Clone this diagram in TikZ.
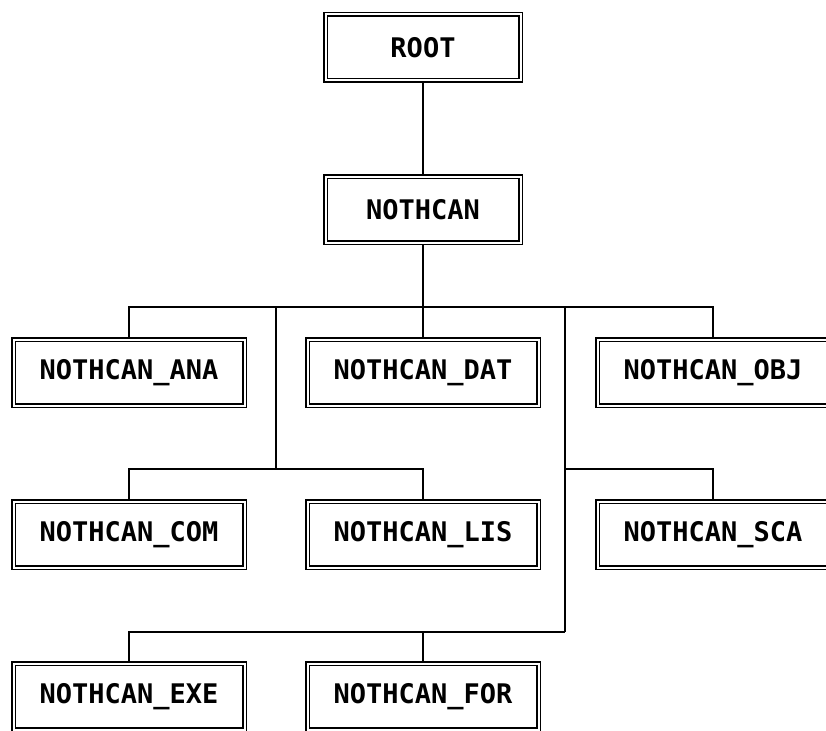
\documentclass[tikz,border=0pt]{standalone}
\usepackage{fontspec}
\newfontfamily\plotfont{DejaVu Sans Mono}
\usepackage{tikz}
\usetikzlibrary{positioning}

\begin{document}
\begin{tikzpicture}[
    x=1pt, y=-1pt,
    module/.style={draw, line width=1.4pt, double, double distance=2pt,
                   rectangle, minimum width=231pt, minimum height=66pt,
                   outer sep=2.4pt, inner sep=0pt,
                   font=\plotfont\bfseries\fontsize{27}{30}\selectfont},
    topmodule/.style={module, minimum width=195pt},
    link/.style={line width=1.3pt}
]
\useasboundingbox (0,0) rectangle (826,730);
\clip (0,0) rectangle (826,730);
% top of the tree
\node[topmodule] (root) at (423,47.5) {ROOT};
\node[topmodule] (nothcan) at (423,209.5) {NOTHCAN};
% first row
\node[module] (ana) at (129,372.5) {NOTHCAN\_ANA};
\node[module] (dat) at (423,372.5) {NOTHCAN\_DAT};
\node[module] (obj) at (713,372.5) {NOTHCAN\_OBJ};
% second row
\node[module] (com) at (129,534.5) {NOTHCAN\_COM};
\node[module] (lis) at (423,534.5) {NOTHCAN\_LIS};
\node[module] (sca) at (713,534.5) {NOTHCAN\_SCA};
% third row
\node[module] (exe) at (129,696.5) {NOTHCAN\_EXE};
\node[module] (nfor) at (423,696.5) {NOTHCAN\_FOR};

% bus points
\coordinate (bus1) at (423,307);
\coordinate (bus2) at (276,469);
\coordinate (bus3) at (565,632);

\draw[link] (root) -- (nothcan);
\draw[link] (nothcan) -- (dat);
\draw[link] (ana.north) |- (bus1) -| (obj.north);
\draw[link] (bus2 |- bus1) -- (bus2);
\draw[link] (com.north) |- (bus2) -| (lis.north);
\draw[link] (bus3 |- bus1) -- (bus3);
\draw[link] (bus3 |- bus2) -| (sca.north);
\draw[link] (exe.north) |- (bus3);
\draw[link] (nfor.north) -- (nfor.north |- bus3);
\end{tikzpicture}
\end{document}
